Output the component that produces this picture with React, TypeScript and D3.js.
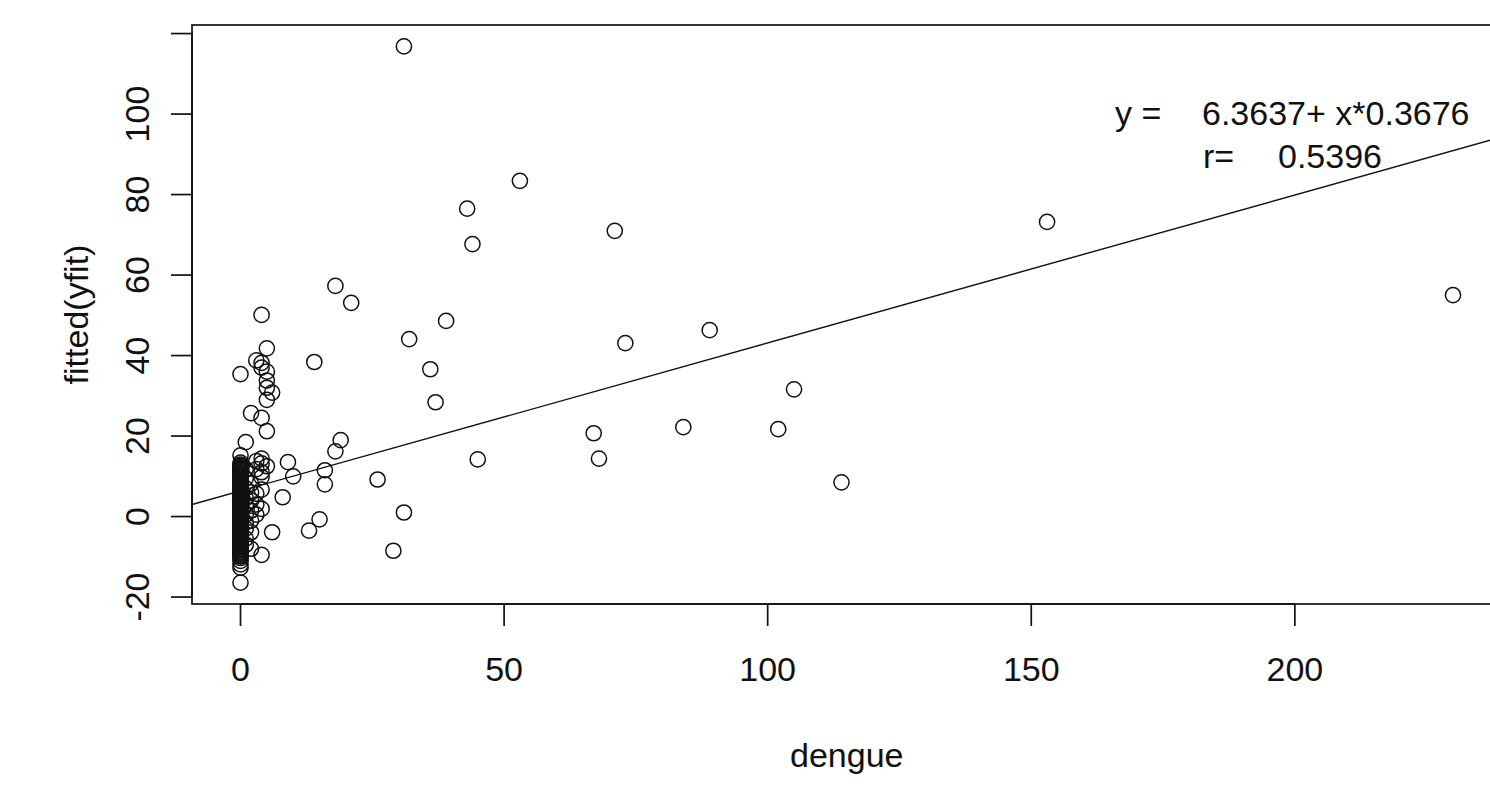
import React from 'react';
import * as d3 from 'd3';

// dengue values (x) and the fitted(yfit) values observed at each of them
const dengueLevels = [0, 1, 2, 3, 4, 5, 6, 8, 9, 10, 13, 14, 15, 16, 18, 19, 21, 26, 29, 31, 32, 36, 37, 39, 43, 44, 45, 53, 67, 68, 71, 73, 84, 89, 102, 105, 114, 153, 230];
const fittedAtLevel: number[][] = [
  [35.4, 15.2, 13.4, 12.9, 12.6, 12.3, 12.1, 11.8, 11.6, 11.3, 11.0, 10.8, 10.5, 10.3, 10.1, 9.9, 9.6, 9.4, 9.1, 8.8, 8.7, 8.5, 8.2, 7.9, 7.6, 7.4, 7.3, 7.0, 6.8, 6.5, 6.3, 6.1, 5.9, 5.7, 5.4, 5.1, 4.9, 4.6, 4.4, 4.3, 4.0, 3.8, 3.5, 3.3, 3.0, 2.8, 2.5, 2.3, 2.1, 1.9, 1.6, 1.4, 1.2, 0.9, 0.8, 0.5, 0.3, 0.1, -0.1, -0.3, -0.6, -0.8, -1.0, -1.3, -1.5, -1.8, -2.1, -2.2, -2.4, -2.7, -2.9, -3.2, -3.4, -3.6, -3.9, -4.1, -4.3, -4.6, -4.8, -5.0, -5.2, -5.5, -5.8, -6.1, -6.3, -6.6, -6.9, -7.0, -7.2, -7.5, -7.7, -8.0, -8.2, -8.4, -8.7, -8.9, -9.2, -9.5, -9.7, -9.9, -10.3, -11.0, -11.9, -12.7, -16.4],
  [18.5, 11.8, 9.5, 7.0, 4.5, 2.8, 0.5, -1.5, -3.0, -5.5, -7.0],
  [25.7, 8.2, 6.0, 4.0, 1.5, -1.0, -3.9, -8.0],
  [38.8, 13.8, 11.8, 5.7, 3.0, 0.5],
  [50.1, 38.2, 37.0, 24.5, 14.4, 13.2, 11.0, 9.8, 6.7, 1.9, -9.5],
  [41.8, 36.0, 33.8, 32.0, 29.0, 21.2, 12.5],
  [30.8, -3.9],
  [4.8],
  [13.5],
  [10.0],
  [-3.5],
  [38.4],
  [-0.7],
  [11.5, 8.0],
  [57.3, 16.2],
  [19.0],
  [53.1],
  [9.2],
  [-8.5],
  [116.8, 1.0],
  [44.1],
  [36.6],
  [28.4],
  [48.6],
  [76.5],
  [67.7],
  [14.2],
  [83.4],
  [20.7],
  [14.4],
  [71.0],
  [43.1],
  [22.2],
  [46.3],
  [21.7],
  [31.6],
  [8.5],
  [73.2],
  [55.0],
];

const xTicks = [0, 50, 100, 150, 200];
const yTicks = [-20, 0, 20, 40, 60, 80, 100, 120];
const yTickLabels = ['-20', '0', '20', '40', '60', '80', '100', ''];

const intercept = 6.3637;
const slope = 0.3676;
const eqLabel = 'y =';
const eqText = '6.3637+ x*0.3676';
const rLabel = 'r=';
const rText = '0.5396';

const xTitle = 'dengue';
const yTitle = 'fitted(yfit)';

const W = 1490;
const H = 786;
const box = { left: 192, right: 1501.5, top: 25, bottom: 604 };
const FONT = '"Liberation Sans", Arial, Helvetica, sans-serif';
const FS = 34;
const INK = '#111';

export default function App() {
  const points = dengueLevels.flatMap((x, i) => fittedAtLevel[i].map((y) => ({ x, y })));
  const xExt = d3.extent(points, (d) => d.x) as [number, number];
  const yExt = d3.extent(points, (d) => d.y) as [number, number];
  const xPad = (xExt[1] - xExt[0]) * 0.04;
  const yPad = (yExt[1] - yExt[0]) * 0.04;
  const x = d3.scaleLinear().domain([xExt[0] - xPad, xExt[1] + xPad]).range([box.left, box.right]);
  const y = d3.scaleLinear().domain([yExt[0] - yPad, yExt[1] + yPad]).range([box.bottom, box.top]);
  const xd = x.domain();
  const line = d3.line<number>().x((v) => x(v)).y((v) => y(intercept + slope * v));

  return (
    <svg width={W} height={H} style={{ position: 'absolute', left: 0, top: 0, background: '#fff' }} fontFamily={FONT}>
      <defs>
        <clipPath id="plotclip">
          <rect x={box.left} y={box.top} width={box.right - box.left} height={box.bottom - box.top} />
        </clipPath>
      </defs>
      <rect x={0} y={0} width={W} height={H} fill="#fff" />
      <g clipPath="url(#plotclip)">
        <path d={line([xd[0], xd[1]]) || ''} fill="none" stroke={INK} strokeWidth={1.4} />
        {points.map((p, i) => (
          <circle key={i} cx={x(p.x)} cy={y(p.y)} r={7.6} fill="none" stroke={INK} strokeWidth={1.5} />
        ))}
      </g>
      <rect x={box.left} y={box.top} width={box.right - box.left} height={box.bottom - box.top} fill="none" stroke={INK} strokeWidth={1.7} />
      {/* x axis */}
      <line x1={x(xTicks[0])} x2={x(xTicks[xTicks.length - 1])} y1={box.bottom} y2={box.bottom} stroke={INK} strokeWidth={1.7} />
      {xTicks.map((t) => (
        <g key={t}>
          <line x1={x(t)} x2={x(t)} y1={box.bottom} y2={box.bottom + 22} stroke={INK} strokeWidth={1.7} />
          <text x={x(t)} y={681} textAnchor="middle" fontSize={FS} fill={INK}>{t}</text>
        </g>
      ))}
      {/* y axis */}
      <line x1={box.left} x2={box.left} y1={y(yTicks[0])} y2={y(yTicks[yTicks.length - 1])} stroke={INK} strokeWidth={1.7} />
      {yTicks.map((t, i) => (
        <g key={t}>
          <line x1={box.left} x2={box.left - 21} y1={y(t)} y2={y(t)} stroke={INK} strokeWidth={1.7} />
          {yTickLabels[i] && (
            <text transform={`translate(${149},${y(t)}) rotate(-90)`} textAnchor="middle" fontSize={FS} fill={INK}>{yTickLabels[i]}</text>
          )}
        </g>
      ))}
      <text x={(box.left + box.right) / 2} y={767} textAnchor="middle" fontSize={FS} fill={INK}>{xTitle}</text>
      <text transform={`translate(${88},${(box.top + box.bottom) / 2}) rotate(-90)`} textAnchor="middle" fontSize={FS} fill={INK}>{yTitle}</text>
      {/* regression annotation */}
      <text x={1115} y={125} fontSize={FS} fill={INK}>{eqLabel}</text>
      <text x={1202} y={125} fontSize={FS} fill={INK}>{eqText}</text>
      <text x={1203} y={168} fontSize={FS} fill={INK}>{rLabel}</text>
      <text x={1278} y={168} fontSize={FS} fill={INK}>{rText}</text>
    </svg>
  );
}
